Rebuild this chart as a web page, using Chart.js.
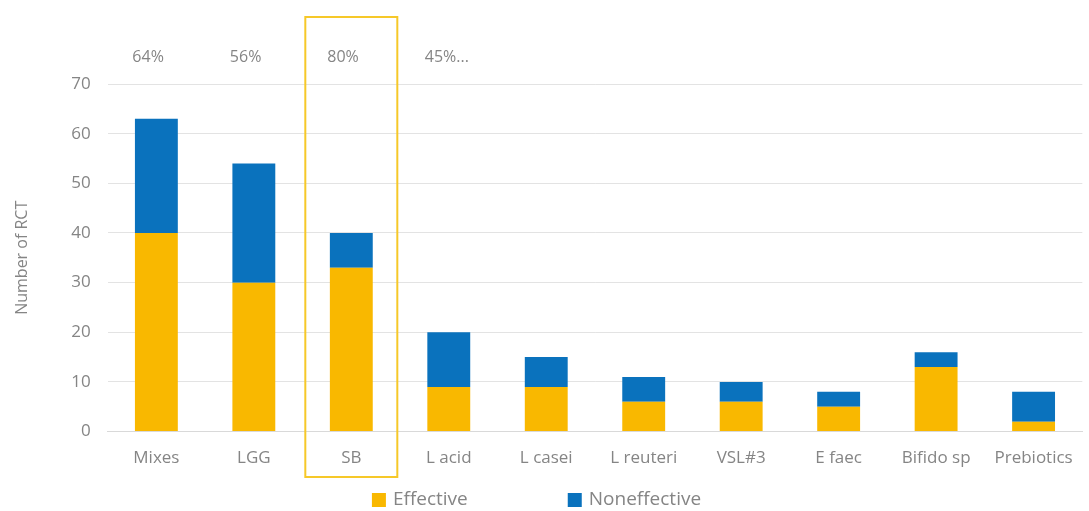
<!DOCTYPE html>
<html>
<head>
<meta charset="utf-8">
<title>RCT by probiotic</title>
<script src="https://cdn.jsdelivr.net/npm/chart.js@4/dist/chart.umd.min.js"></script>
<style>
  html, body { margin: 0; padding: 0; background: #fff; }
  #wrap { width: 1089px; height: 511px; }
</style>
</head>
<body>
<div id="wrap"><canvas id="rctChart" width="1089" height="511"></canvas></div>
<script>
// categories and stacked counts
const categories = ['Mixes', 'LGG', 'SB', 'L acid', 'L casei', 'L reuteri', 'VSL#3', 'E faec', 'Bifido sp', 'Prebiotics'];
const effective = [40, 30, 33, 9, 9, 6, 6, 5, 13, 2];
const noneffective = [23, 24, 7, 11, 6, 5, 4, 3, 3, 6];
const shareLabels = ['64%', '56%', '80%', '45%...', '', '', '', '', '', ''];
const yTicks = [0, 10, 20, 30, 40, 50, 60, 70];
const highlightIndex = 2;

const ORANGE = '#F9B800';
const BLUE = '#0A72BD';
const GREY = '#858585';
const FONT = '"Open Sans", sans-serif';

// percentages above the bars, frame around the highlighted column, legend row
const overlayPlugin = {
    id: 'overlay',
    afterDraw(chart) {
        const ctx = chart.ctx;
        const x = chart.scales.x;
        ctx.save();
        ctx.font = '16px ' + FONT;
        ctx.fillStyle = GREY;
        ctx.textAlign = 'left';
        ctx.textBaseline = 'middle';
        shareLabels.forEach((txt, i) => {
            if (!txt) return;
            ctx.fillText(txt, x.getPixelForValue(i) - 24, 57);
        });

        const cx = x.getPixelForValue(highlightIndex);
        ctx.strokeStyle = '#F6C829';
        ctx.lineWidth = 2;
        ctx.strokeRect(cx - 46, 17, 92, 460);

        // legend
        const items = chart.data.datasets.map(ds => ({ text: ds.label, color: ds.backgroundColor }));
        const box = 14, gap = 7, spacing = 100;
        ctx.font = '19px ' + FONT;
        const widths = items.map(it => box + gap + ctx.measureText(it.text).width);
        const total = widths.reduce((a, b) => a + b, 0) + spacing * (items.length - 1);
        let lx = chart.width / 2 - total / 2 - 8;
        const ly = 500;
        items.forEach((it, i) => {
            ctx.fillStyle = it.color;
            ctx.fillRect(lx, ly - box / 2, box, box);
            ctx.fillStyle = GREY;
            ctx.fillText(it.text, lx + box + gap, ly);
            lx += widths[i] + spacing;
        });
        ctx.restore();
    }
};

new Chart(document.getElementById('rctChart'), {
    type: 'bar',
    data: {
        labels: categories,
        datasets: [
            { label: 'Effective', data: effective, backgroundColor: ORANGE, borderWidth: 0 },
            { label: 'Noneffective', data: noneffective, backgroundColor: BLUE, borderWidth: 0 }
        ]
    },
    options: {
        responsive: false,
        animation: false,
        categoryPercentage: 1,
        barPercentage: 0.44,
        layout: { padding: { top: 84, right: 6, left: 13, bottom: 27 } },
        scales: {
            x: {
                stacked: true,
                grid: { display: false, drawTicks: false },
                border: { display: true, color: '#d9d9d9' },
                ticks: { color: GREY, font: { family: FONT, size: 17 }, padding: 16, maxRotation: 0, autoSkip: false }
            },
            y: {
                stacked: true,
                min: 0,
                max: 70,
                afterBuildTicks(axis) { axis.ticks = yTicks.map(v => ({ value: v })); },
                grid: { color: '#e3e3e3', drawTicks: false },
                border: { display: false },
                ticks: { color: GREY, font: { family: FONT, size: 17 }, padding: 17 },
                title: { display: true, text: 'Number of RCT', color: GREY, font: { family: FONT, size: 16 }, padding: { top: 0, bottom: 22 } }
            }
        },
        plugins: {
            legend: { display: false },
            tooltip: { enabled: false }
        }
    },
    plugins: [overlayPlugin]
});
</script>
</body>
</html>
